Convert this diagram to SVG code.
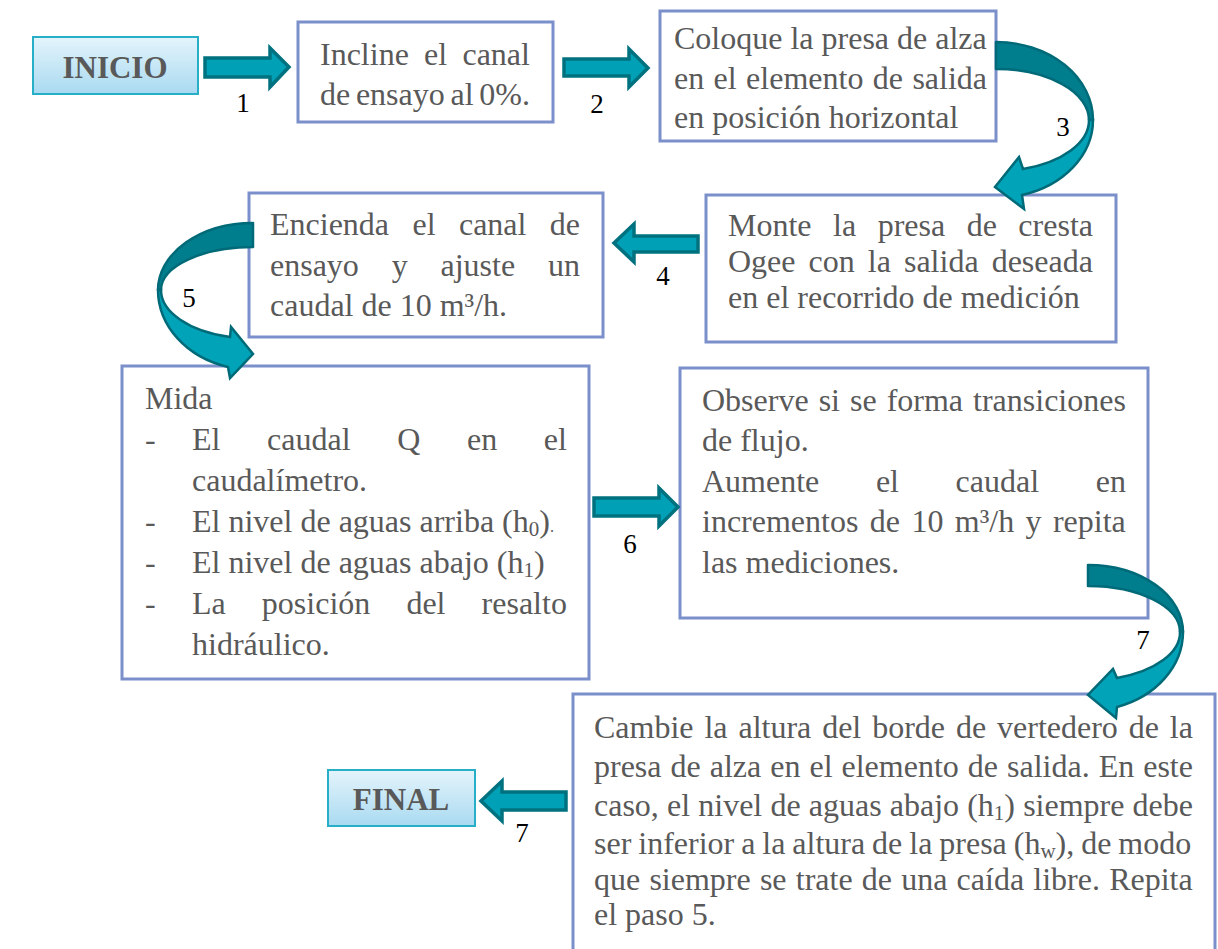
<svg xmlns="http://www.w3.org/2000/svg" width="1218" height="949" viewBox="0 0 1218 949">
<defs>
<linearGradient id="term" x1="0" y1="0" x2="0" y2="1">
<stop offset="0" stop-color="#e4f4fb"/>
<stop offset="1" stop-color="#a9daf1"/>
</linearGradient>
<style>
.box{fill:#ffffff;stroke:#7b8fcb;stroke-width:3}
.term{fill:url(#term);stroke:#27afc7;stroke-width:2}
.t{font-family:"Liberation Serif","Times New Roman",serif;font-size:32px;fill:#595959}
.tb{font-family:"Liberation Serif","Times New Roman",serif;font-size:31px;font-weight:bold;fill:#595959;text-anchor:middle}
.lbl{font-family:"Liberation Serif","Times New Roman",serif;font-size:27px;fill:#000000;text-anchor:middle}
.arr{fill:#00a0b7;stroke:#00717f;stroke-width:3.5;stroke-linejoin:miter}
.back{fill:#007e8d;stroke:#006a78;stroke-width:2.5;stroke-linejoin:round}
.front{fill:#00a3b8;stroke:#006a78;stroke-width:2.5;stroke-linejoin:miter}
</style>
</defs>
<rect width="1218" height="949" fill="#ffffff"/>

<g id="inicio">
<rect class="term" x="33" y="37" width="165" height="57"/>
<text class="tb" x="115" y="78">INICIO</text>
</g>

<g id="step1">
<rect class="box" x="298" y="22" width="255" height="100"/>
<text class="t" x="320" y="65" word-spacing="7.25">Incline el canal</text>
<text class="t" x="320" y="105" word-spacing="-2.3">de ensayo al 0%.</text>
</g>

<g id="step2">
<rect class="box" x="660" y="11" width="336" height="130"/>
<text class="t" x="674" y="49">Coloque la presa de alza</text>
<text class="t" x="674" y="89" word-spacing="1.4">en el elemento de salida</text>
<text class="t" x="674" y="128">en posición horizontal</text>
</g>

<g id="step3">
<rect class="box" x="706" y="195" width="410" height="147"/>
<text class="t" x="728" y="236" word-spacing="13.5">Monte la presa de cresta</text>
<text class="t" x="728" y="272" word-spacing="5.05">Ogee con la salida deseada</text>
<text class="t" x="728" y="308">en el recorrido de medición</text>
</g>

<g id="step4">
<rect class="box" x="249" y="193" width="354" height="144"/>
<text class="t" x="270" y="235" word-spacing="15.4">Encienda el canal de</text>
<text class="t" x="270" y="276" word-spacing="24.8">ensayo y ajuste un</text>
<text class="t" x="270" y="316">caudal de 10 m³/h.</text>
</g>

<g id="step5">
<rect class="box" x="122" y="366" width="467" height="313"/>
<text class="t" x="145" y="409">Mida</text>
<text class="t" x="145" y="450">-</text>
<text class="t" x="192" y="450" word-spacing="38.65">El caudal Q en el</text>
<text class="t" x="192" y="491">caudalímetro.</text>
<text class="t" x="145" y="532">-</text>
<text class="t" x="192" y="532">El nivel de aguas arriba (h<tspan font-size="21" dy="4">0</tspan><tspan dy="-4">)</tspan><tspan font-size="16">.</tspan></text>
<text class="t" x="145" y="573">-</text>
<text class="t" x="192" y="573">El nivel de aguas abajo (h<tspan font-size="21" dy="4">1</tspan><tspan dy="-4">)</tspan></text>
<text class="t" x="145" y="614">-</text>
<text class="t" x="192" y="614" word-spacing="28.1">La posición del resalto</text>
<text class="t" x="192" y="655">hidráulico.</text>
</g>

<g id="step6">
<rect class="box" x="680" y="368" width="468" height="250"/>
<text class="t" x="702" y="411" word-spacing="2">Observe si se forma transiciones</text>
<text class="t" x="702" y="451">de flujo.</text>
<text class="t" x="702" y="492" word-spacing="48.6">Aumente el caudal en</text>
<text class="t" x="702" y="532" word-spacing="3.4">incrementos de 10 m³/h y repita</text>
<text class="t" x="702" y="573">las mediciones.</text>
</g>

<g id="step7">
<rect class="box" x="573" y="694" width="642" height="265"/>
<text class="t" x="594" y="738" word-spacing="2.9">Cambie la altura del borde de vertedero de la</text>
<text class="t" x="594" y="777" word-spacing="1">presa de alza en el elemento de salida. En este</text>
<text class="t" x="594" y="816" word-spacing="0.15">caso, el nivel de aguas abajo (h<tspan font-size="21" dy="4">1</tspan><tspan dy="-4">) siempre debe</tspan></text>
<text class="t" x="594" y="854" word-spacing="-1.06">ser inferior a la altura de la presa (h<tspan font-size="21" dy="4">w</tspan><tspan dy="-4">), de modo</tspan></text>
<text class="t" x="594" y="890" word-spacing="1.2">que siempre se trate de una caída libre. Repita</text>
<text class="t" x="594" y="925">el paso 5.</text>
</g>

<g id="final">
<rect class="term" x="328" y="770" width="147" height="56"/>
<text class="tb" x="401" y="810">FINAL</text>
</g>

<g id="connectors">
<polygon class="arr" points="205,58 270,58 270,48 289,67 270,87 270,77 205,77"/>
<polygon class="arr" points="564,59 629,59 629,49 648,68 629,87 629,76 564,76"/>
<path class="back" d="M996,42 A97,78 0 0 1 1093,120 L1089,120 A93,51 0 0 0 996,69 Z"/>
<path class="front" d="M1093,120 A97,78 0 0 1 1022,195 L1024,209 L995,187 L1019,157 L1023,169 A93,51 0 0 0 1089,120 Z"/>
<polygon class="arr" points="698,236 634,236 634,224 614,243 634,262 634,252 698,252"/>
<path class="back" d="M253,223 A95,67 0 0 0 158,290 L161,290 A92,43 0 0 1 253,247 Z"/>
<path class="front" d="M158,290 A95,80 0 0 0 228,367 L230,378 L253,354 L231,327 L230,337 A92,48.5 0 0 1 161,290 Z"/>
<polygon class="arr" points="594,498 659,498 659,488 678,507 659,526 659,516 594,516"/>
<path class="back" d="M1088,565 A95,67 0 0 1 1183,632 L1180,632 A92,46 0 0 0 1088,586 Z"/>
<path class="front" d="M1183,632 A95,79 0 0 1 1117,707 L1116,718 L1088,695 L1113,669 L1117,678 A92,48 0 0 0 1180,632 Z"/>
<polygon class="arr" points="566,792 502,792 502,781 481,801 502,821 502,810 566,810"/>
<text class="lbl" x="243" y="112">1</text>
<text class="lbl" x="597" y="113">2</text>
<text class="lbl" x="1063" y="136">3</text>
<text class="lbl" x="663" y="285">4</text>
<text class="lbl" x="189" y="307">5</text>
<text class="lbl" x="630" y="553">6</text>
<text class="lbl" x="1143" y="649">7</text>
<text class="lbl" x="522" y="842">7</text>
</g>
</svg>
